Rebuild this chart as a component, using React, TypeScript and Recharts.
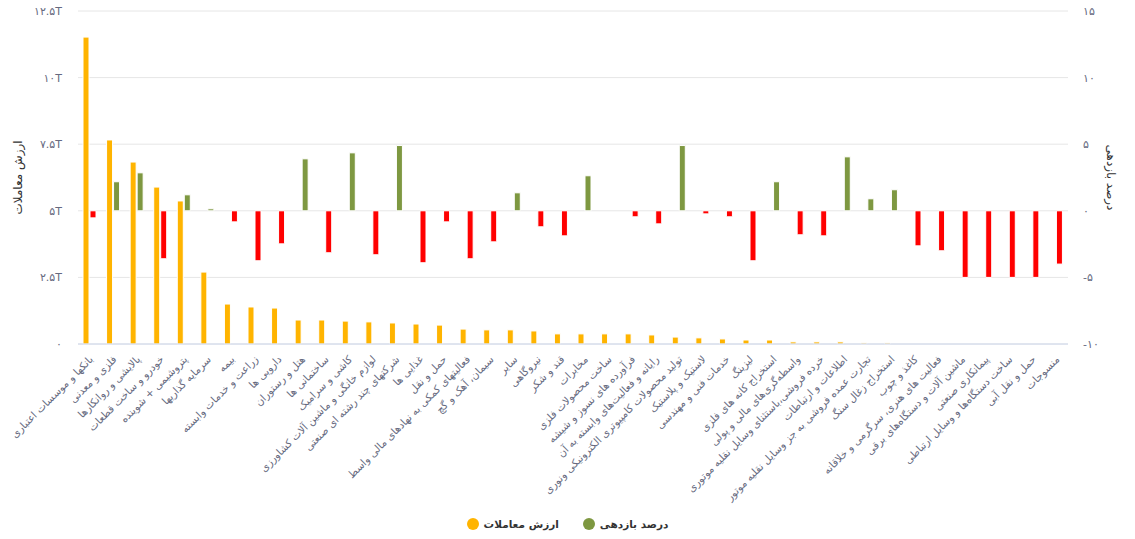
import { Bar, CartesianGrid, Cell, ComposedChart, Legend, XAxis, YAxis } from 'recharts';

const categories = [
  'بانکها و موسسات اعتباری',
  'فلزی و معدنی',
  'پالایشی و روانکارها',
  'خودرو و ساخت قطعات',
  'پتروشیمی + شوینده',
  'سرمایه گذاریها',
  'بیمه',
  'زراعت و خدمات وابسته',
  'دارویی ها',
  'هتل و رستوران',
  'ساختمانی ها',
  'کاشی و سرامیک',
  'لوازم خانگی و ماشین آلات کشاورزی',
  'شرکتهای چند رشته ای صنعتی',
  'غذایی ها',
  'حمل و نقل',
  'فعالیتهای کمکی به نهادهای مالی واسط',
  'سیمان، آهک و گچ',
  'سایر',
  'نیروگاهی',
  'قند و شکر',
  'مخابرات',
  'ساخت محصولات فلزی',
  'فرآورده های نسوز و شیشه',
  'رایانه و فعالیت‌های وابسته به آن',
  'تولید محصولات کامپیوتری الکترونیکی ونوری',
  'لاستیک و پلاستیک',
  'خدمات فنی و مهندسی',
  'لیزینگ',
  'استخراج کانه های فلزی',
  'واسطه‌گری‌های مالی و پولی',
  'خرده فروشی،باستثنای وسایل نقلیه موتوری',
  'اطلاعات و ارتباطات',
  'تجارت عمده فروشی به جز وسایل نقلیه موتور',
  'استخراج زغال سنگ',
  'کاغذ و چوب',
  'فعالیت های هنری، سرگرمی و خلاقانه',
  'ماشین آلات و دستگاه‌های برقی',
  'پیمانکاری صنعتی',
  'ساخت دستگاه‌ها و وسایل ارتباطی',
  'حمل و نقل آبی',
  'منسوجات',
];

// ارزش معاملات، به تریلیون
const tradeValue = [
  11.52, 7.66, 6.83, 5.89, 5.37, 2.7, 1.5, 1.39, 1.35, 0.9, 0.9, 0.86, 0.83, 0.79,
  0.75, 0.71, 0.56, 0.53, 0.53, 0.49, 0.38, 0.38, 0.38, 0.38, 0.34, 0.26, 0.23, 0.19,
  0.15, 0.15, 0.08, 0.08, 0.08, 0.04, 0.04, 0, 0, 0, 0, 0, 0, 0,
];

// درصد بازدهی
const returnPct = [
  -0.53, 2.18, 2.85, -3.6, 1.2, 0.15, -0.83, -3.75, -2.48, 3.9, -3.15, 4.35, -3.3, 4.9,
  -3.9, -0.83, -3.6, -2.33, 1.35, -1.2, -1.88, 2.63, 0, -0.45, -0.98, 4.9, -0.23, -0.45,
  -3.75, 2.18, -1.8, -1.88, 4.05, 0.9, 1.58, -2.63, -3.0, -5.0, -5.0, -5.0, -5.0, -4.0,
];

const leftTicks = [0, 2.5, 5, 7.5, 10, 12.5];
const rightTicks = [-10, -5, 0, 5, 10, 15];

const data = categories.map((name, i) => ({ name, value: tradeValue[i], ret: returnPct[i] }));

const font = '"DejaVu Sans", sans-serif';
const labelColor = '#666a80';
const orange = '#FFB400';
const green = '#7E9841';
const red = '#FF0000';

const faDigits = (s: string) => s.replace(/\d/g, (d) => '۰۱۲۳۴۵۶۷۸۹'[Number(d)]);

function XTick({ x, y, payload }: any) {
  const tx = x + 4;
  const ty = y + 8;
  return (
    <text
      x={tx}
      y={ty}
      transform={`rotate(-45, ${tx}, ${ty})`}
      textAnchor="end"
      fontSize={10.4}
      fontFamily={font}
      fill={labelColor}
    >
      {payload.value}
    </text>
  );
}

function LegendContent() {
  const items = [
    { label: 'ارزش معاملات', color: orange },
    { label: 'درصد بازدهی', color: green },
  ];
  return (
    <div
      style={{
        display: 'flex',
        justifyContent: 'center',
        alignItems: 'center',
        gap: 24,
        height: 30,
        width: 1135,
        fontFamily: font,
        fontWeight: 'bold',
        fontSize: 10.5,
        color: '#333',
      }}
    >
      {items.map((it) => (
        <div key={it.label} style={{ display: 'flex', alignItems: 'center', gap: 5 }}>
          <span style={{ width: 12, height: 12, borderRadius: 6, background: it.color, flex: 'none' }} />
          <span dir="rtl">{it.label}</span>
        </div>
      ))}
    </div>
  );
}

export default function App() {
  return (
    <div style={{ position: 'absolute', left: 0, top: 0, background: '#fff' }}>
      <ComposedChart
        width={1135}
        height={539}
        data={data}
        margin={{ top: 11, right: 0, bottom: 0, left: 0 }}
        barGap={1}
        barSize={6}
      >
        <CartesianGrid vertical={false} stroke="#e6e6e6" yAxisId="left" />
        <XAxis
          dataKey="name"
          interval={0}
          height={165}
          tick={<XTick />}
          tickLine={false}
          axisLine={{ stroke: '#ccd6eb' }}
        />
        <YAxis
          yAxisId="left"
          width={78}
          domain={[0, 12.5]}
          ticks={leftTicks}
          tickFormatter={(v: number) => (v === 0 ? '۰' : faDigits(String(v)) + 'T')}
          tick={{ fontSize: 11, fill: labelColor, fontFamily: font }}
          tickLine={false}
          axisLine={false}
          tickMargin={10}
          label={({ viewBox }: any) => (
            <text
              x={18}
              y={viewBox.y + viewBox.height / 2}
              transform={`rotate(-90, 18, ${viewBox.y + viewBox.height / 2})`}
              textAnchor="middle"
              dominantBaseline="central"
              fontSize={12}
              fontFamily={font}
              fill="#333"
            >
              ارزش معاملات
            </text>
          )}
        />
        <YAxis
          yAxisId="right"
          orientation="right"
          width={67}
          domain={[-10, 15]}
          ticks={rightTicks}
          tickFormatter={(v: number) => faDigits(String(v))}
          tick={{ fontSize: 11, fill: labelColor, fontFamily: font }}
          tickLine={false}
          axisLine={false}
          tickMargin={9}
          label={({ viewBox }: any) => (
            <text
              x={1111}
              y={viewBox.y + viewBox.height / 2}
              transform={`rotate(90, 1111, ${viewBox.y + viewBox.height / 2})`}
              textAnchor="middle"
              dominantBaseline="central"
              fontSize={12}
              fontFamily={font}
              fill="#333"
            >
              درصد بازدهی
            </text>
          )}
        />
        <Legend verticalAlign="bottom" content={<LegendContent />} wrapperStyle={{ left: 0, width: 1135 }} />
        <Bar yAxisId="left" dataKey="value" fill={orange} stroke="#fff" strokeWidth={1} isAnimationActive={false} />
        <Bar yAxisId="right" dataKey="ret" fill={green} stroke="#fff" strokeWidth={1} isAnimationActive={false}>
          {data.map((d) => (
            <Cell key={d.name} fill={d.ret < 0 ? red : green} />
          ))}
        </Bar>
      </ComposedChart>
    </div>
  );
}
